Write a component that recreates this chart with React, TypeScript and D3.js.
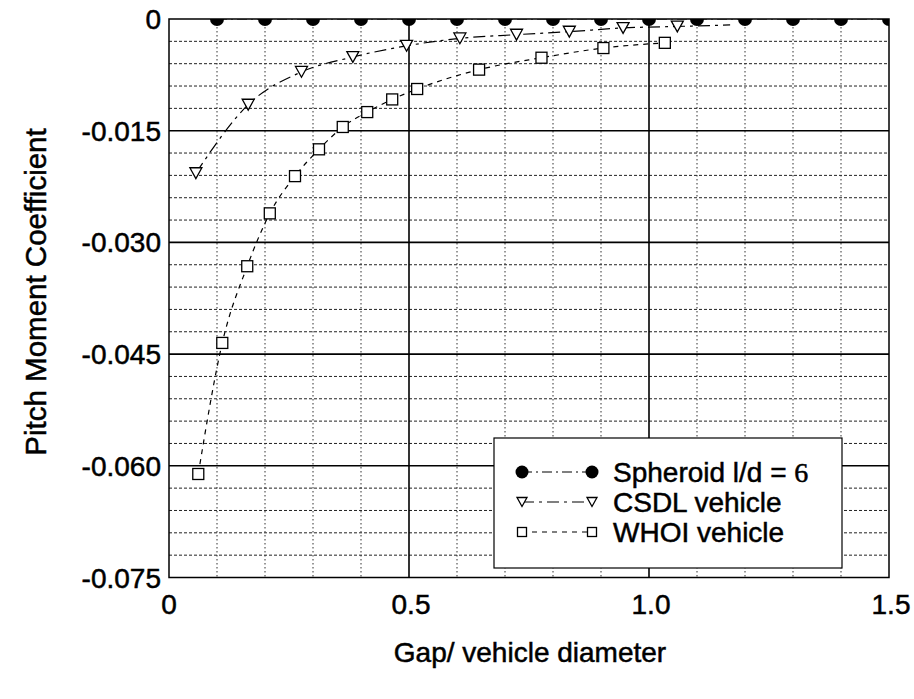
import React from "react";
import * as d3 from "d3";

// ---- data ----
const spheroidX = [0.1, 0.2, 0.3, 0.4, 0.5, 0.6, 0.7, 0.8, 0.9, 1.0, 1.1, 1.2, 1.3, 1.4, 1.5];
const spheroidY = [0, 0, 0, 0, 0, 0, 0, 0, 0, 0, 0, 0, 0, 0, 0];

const csdlX = [0.056, 0.165, 0.276, 0.383, 0.495, 0.606, 0.724, 0.834, 0.946, 1.059];
const csdlY = [-0.0207, -0.0115, -0.0071, -0.0051, -0.0036, -0.0026, -0.0021, -0.0017, -0.0012, -0.001];
const csdlCurveEnd = [1.169, -0.0008];

const whoiX = [0.061, 0.111, 0.163, 0.21, 0.2625, 0.3125, 0.362, 0.413, 0.465, 0.517, 0.646, 0.776, 0.905, 1.033];
const whoiY = [-0.0611, -0.0435, -0.0332, -0.0261, -0.0211, -0.0175, -0.0145, -0.0125, -0.0108, -0.0094, -0.0068, -0.0052, -0.0039, -0.0032];

const yTicks = [0, -0.015, -0.03, -0.045, -0.06, -0.075];
const yTickLabels = ["0", "-0.015", "-0.030", "-0.045", "-0.060", "-0.075"];
const xTicks = [0, 0.5, 1.0, 1.5];
const xTickLabels = ["0", "0.5", "1.0", "1.5"];
const xMinor = [0.1, 0.2, 0.3, 0.4, 0.6, 0.7, 0.8, 0.9, 1.1, 1.2, 1.3, 1.4];
const yMinor = [
  -0.003, -0.006, -0.009, -0.012, -0.018, -0.021, -0.024, -0.027, -0.033, -0.036, -0.039, -0.042,
  -0.048, -0.051, -0.054, -0.057, -0.063, -0.066, -0.069, -0.072,
];
const yMajorInner = [-0.015, -0.03, -0.045, -0.06];
const xMajorInner = [0.5, 1.0];

const legendLabels = ["Spheroid l/d = ", "CSDL vehicle", "WHOI vehicle"];

const W = 914;
const H = 699;
const L = 169, R = 889, T = 19, B = 577.5;
const FONT = "'Liberation Sans', Arial, Helvetica, sans-serif";
const TXT = { fontFamily: FONT, fontSize: 28, fill: "black", stroke: "black", strokeWidth: 0.5 };

function Triangle({ cx, cy, s }: { cx: number; cy: number; s: number }) {
  const h = s * 0.9;
  const p = `M${cx - s / 2},${cy - h / 2}L${cx + s / 2},${cy - h / 2}L${cx},${cy + h / 2}Z`;
  return <path d={p} fill="white" stroke="black" strokeWidth={1.3} />;
}

function Square({ cx, cy, s }: { cx: number; cy: number; s: number }) {
  return <rect x={cx - s / 2} y={cy - s / 2} width={s} height={s} fill="white" stroke="black" strokeWidth={1.3} />;
}

export default function App() {
  const x = d3.scaleLinear().domain([0, 1.5]).range([L, R]);
  const y = d3.scaleLinear().domain([-0.075, 0]).range([B, T]);

  const line = d3
    .line<[number, number]>()
    .x((d) => x(d[0]))
    .y((d) => y(d[1]))
    .curve(d3.curveMonotoneX);

  const csdlPts: [number, number][] = csdlX.map((v, i) => [v, csdlY[i]] as [number, number]);
  const csdlCurve: [number, number][] = [...csdlPts, [csdlCurveEnd[0], csdlCurveEnd[1]]];
  const whoiPts: [number, number][] = whoiX.map((v, i) => [v, whoiY[i]] as [number, number]);
  const sphPts: [number, number][] = spheroidX.map((v, i) => [v, spheroidY[i]] as [number, number]);

  const legY = [472, 502, 532];
  const lx1 = 522, lx2 = 592, ltx = 613;

  return (
    <svg
      width={W}
      height={H}
      viewBox={`0 0 ${W} ${H}`}
      style={{ position: "absolute", left: 0, top: 0, background: "white" }}
    >
      <defs>
        <clipPath id="plotClip">
          <rect x={L} y={T} width={R - L} height={B - T} />
        </clipPath>
      </defs>
      <rect x={0} y={0} width={W} height={H} fill="white" />

      {/* minor grid */}
      {yMinor.map((v, i) => (
        <line key={"ym" + i} x1={L} x2={R} y1={y(v)} y2={y(v)} stroke="#222" strokeWidth={1} strokeDasharray="3,2" />
      ))}
      {xMinor.map((v, i) => (
        <line key={"xm" + i} x1={x(v)} x2={x(v)} y1={T} y2={B} stroke="#333" strokeWidth={1} strokeDasharray="1.5,2.5" />
      ))}
      {/* major grid */}
      {yMajorInner.map((v, i) => (
        <line key={"yM" + i} x1={L} x2={R} y1={y(v)} y2={y(v)} stroke="black" strokeWidth={1.6} />
      ))}
      {xMajorInner.map((v, i) => (
        <line key={"xM" + i} x1={x(v)} x2={x(v)} y1={T} y2={B} stroke="black" strokeWidth={1.6} />
      ))}

      {/* series */}
      <g clipPath="url(#plotClip)">
        <path d={line(sphPts) || ""} fill="none" stroke="black" strokeWidth={1.2} strokeDasharray="10,4,2,4" />
        <path d={line(csdlCurve) || ""} fill="none" stroke="black" strokeWidth={1.2} strokeDasharray="12,5,3,5" />
        <path d={line(whoiPts) || ""} fill="none" stroke="black" strokeWidth={1.2} strokeDasharray="5,5" />
        {sphPts.map((d, i) => (
          <circle key={"s" + i} cx={x(d[0])} cy={y(d[1])} r={7} fill="black" />
        ))}
        {csdlPts.map((d, i) => (
          <Triangle key={"c" + i} cx={x(d[0])} cy={y(d[1])} s={12} />
        ))}
        {whoiPts.map((d, i) => (
          <Square key={"w" + i} cx={x(d[0])} cy={y(d[1])} s={11} />
        ))}
      </g>

      {/* frame */}
      <rect x={L} y={T} width={R - L} height={B - T} fill="none" stroke="black" strokeWidth={1.5} />

      {/* y ticks */}
      {yTicks.map((v, i) => (
        <text key={"yt" + i} x={161} y={y(v) + 10} textAnchor="end" {...TXT}>
          {yTickLabels[i]}
        </text>
      ))}
      {/* x ticks */}
      {xTicks.map((v, i) => (
        <text key={"xt" + i} x={x(v) + (i === 0 ? 0 : 2)} y={614} textAnchor="middle" {...TXT}>
          {xTickLabels[i]}
        </text>
      ))}

      {/* axis titles */}
      <text x={530} y={662} textAnchor="middle" {...TXT}>
        Gap/ vehicle diameter
      </text>
      <text transform="translate(46,292) rotate(-90)" textAnchor="middle" {...TXT} fontSize={29.5}>
        Pitch Moment Coefficient
      </text>

      {/* legend */}
      <rect x={494} y={438} width={348} height={130} fill="white" stroke="black" strokeWidth={1.2} />
      {/* spheroid */}
      <line x1={lx1} x2={lx2} y1={legY[0]} y2={legY[0]} stroke="black" strokeWidth={1.2} strokeDasharray="10,4,2,4" />
      <circle cx={lx1} cy={legY[0]} r={6.5} fill="black" />
      <circle cx={lx2} cy={legY[0]} r={6.5} fill="black" />
      <text x={ltx} y={legY[0] + 10} {...TXT}>
        {legendLabels[0]}
        <tspan fontFamily="'Liberation Serif', 'Times New Roman', serif">6</tspan>
      </text>
      {/* csdl */}
      <line x1={lx1} x2={lx2} y1={legY[1]} y2={legY[1]} stroke="black" strokeWidth={1.2} strokeDasharray="12,5,3,5" />
      <Triangle cx={lx1} cy={legY[1]} s={10} />
      <Triangle cx={lx2} cy={legY[1]} s={10} />
      <text x={ltx} y={legY[1] + 10} {...TXT}>
        {legendLabels[1]}
      </text>
      {/* whoi */}
      <line x1={lx1} x2={lx2} y1={legY[2]} y2={legY[2]} stroke="black" strokeWidth={1.2} strokeDasharray="5,5" />
      <Square cx={lx1} cy={legY[2]} s={9} />
      <Square cx={lx2} cy={legY[2]} s={9} />
      <text x={ltx} y={legY[2] + 10} {...TXT}>
        {legendLabels[2]}
      </text>
    </svg>
  );
}
